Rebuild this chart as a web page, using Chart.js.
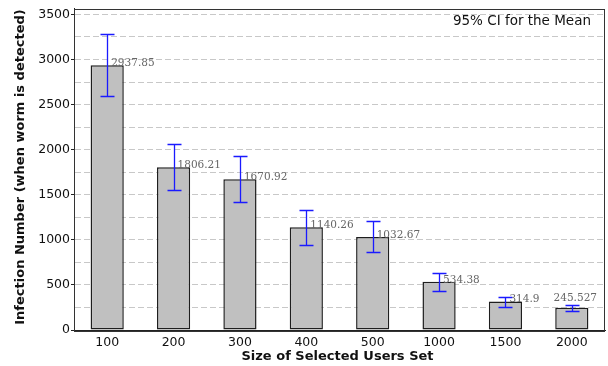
<!DOCTYPE html>
<html>
<head>
<meta charset="utf-8">
<script src="https://cdn.jsdelivr.net/npm/chart.js@4.4.1/dist/chart.umd.min.js"></script>
<style>
  html, body { margin: 0; padding: 0; background: #fff; }
  #wrap { width: 608px; height: 366px; }
</style>
</head>
<body>
<div id="wrap"><canvas id="chart" width="608" height="366"></canvas></div>
<script>
const categories = ['100', '200', '300', '400', '500', '1000', '1500', '2000'];
const means = [2937.85, 1806.21, 1670.92, 1140.26, 1032.67, 534.38, 314.9, 245.527];
const ciLower = [2594, 1550, 1417, 945, 860, 431, 260, 210];
const ciUpper = [3282, 2062, 1925, 1335, 1206, 637, 370, 281];
const meanLabels = ['2937.85', '1806.21', '1670.92', '1140.26', '1032.67', '534.38', '314.9', '245.527'];

// error bars + value labels + frame
const ciPlugin = {
  id: 'ciPlugin',
  afterDatasetsDraw(chart) {
    const ctx = chart.ctx;
    const x = chart.scales.x, y = chart.scales.y;
    const area = chart.chartArea;
    ctx.save();
    // error bars
    ctx.strokeStyle = '#1a1aff';
    ctx.lineWidth = 1.3;
    categories.forEach((c, i) => {
      const cx = Math.round(x.getPixelForValue(i)) + 0.5;
      const yl = Math.round(y.getPixelForValue(ciLower[i])) + 0.5;
      const yh = Math.round(y.getPixelForValue(ciUpper[i])) + 0.5;
      ctx.beginPath();
      ctx.moveTo(cx, yl); ctx.lineTo(cx, yh);
      ctx.moveTo(cx - 7, yl); ctx.lineTo(cx + 7, yl);
      ctx.moveTo(cx - 7, yh); ctx.lineTo(cx + 7, yh);
      ctx.stroke();
    });
    // value labels
    ctx.font = '10.5px "DejaVu Serif"';
    ctx.fillStyle = '#666';
    ctx.textBaseline = 'middle';
    ctx.textAlign = 'left';
    meanLabels.forEach((t, i) => {
      const w = ctx.measureText(t).width;
      let tx = x.getPixelForValue(i) + 4;
      let ty = y.getPixelForValue(means[i]) - 2;
      if (tx + w > area.right - 8) {
        tx = area.right - 8 - w;
        ty -= 8;
      }
      ctx.fillText(t, tx, ty);
    });
    // frame
    ctx.strokeStyle = '#333';
    ctx.lineWidth = 1;
    ctx.strokeRect(Math.round(area.left) + 0.5, Math.round(area.top) + 0.5,
      Math.round(area.right - area.left) - 1, Math.round(area.bottom - area.top));
    // caption
    ctx.font = '13.5px "DejaVu Sans"';
    ctx.fillStyle = '#111';
    ctx.textAlign = 'right';
    ctx.fillText('95% CI for the Mean', area.right - 14, 21);
    // axis titles
    ctx.font = 'bold 13px "DejaVu Sans"';
    ctx.textAlign = 'center';
    ctx.fillText('Size of Selected Users Set', (area.left + area.right) / 2 - 2, 357);
    ctx.translate(21, 167);
    ctx.rotate(-Math.PI / 2);
    ctx.fillText('Infection Number (when worm is detected)', 0, 0);
    ctx.restore();
  }
};

new Chart(document.getElementById('chart'), {
  type: 'bar',
  data: {
    labels: categories,
    datasets: [{
      data: means,
      backgroundColor: '#c0c0c0',
      borderColor: '#1e1e1e',
      borderWidth: 1.5,
      borderSkipped: false,
      categoryPercentage: 1,
      barPercentage: 0.5
    }]
  },
  options: {
    responsive: false,
    animation: false,
    layout: { padding: { top: 6, right: 3, left: 0, bottom: 0 } },
    plugins: { legend: { display: false }, tooltip: { enabled: false } },
    scales: {
      x: {
        grid: { display: false, drawTicks: false },
        border: { color: '#222', width: 1 },
        ticks: { color: '#111', font: { family: 'DejaVu Sans', size: 12.5 }, padding: 5 },
        afterFit(s) { s.height = 36; }
      },
      y: {
        min: 0,
        max: 3566,
        afterBuildTicks(s) {
          const t = [];
          for (let v = 0; v <= 3500; v += 250) t.push({ value: v });
          s.ticks = t;
        },
        grid: {
          color: '#c8c8c8',
          lineWidth: 1,
          drawTicks: true,
          tickLength: 3,
          tickColor: c => (c.tick && c.tick.value % 500 === 0 ? '#222' : 'rgba(0,0,0,0)')
        },
        border: { color: '#222', width: 1, dash: [6, 3] },
        ticks: {
          color: '#111',
          font: { family: 'DejaVu Sans', size: 12.5 },
          padding: 1,
          callback: v => (v % 500 === 0 ? String(v) : '')
        },
        afterFit(s) { s.width = 74; }
      }
    }
  },
  plugins: [ciPlugin]
});
</script>
</body>
</html>
